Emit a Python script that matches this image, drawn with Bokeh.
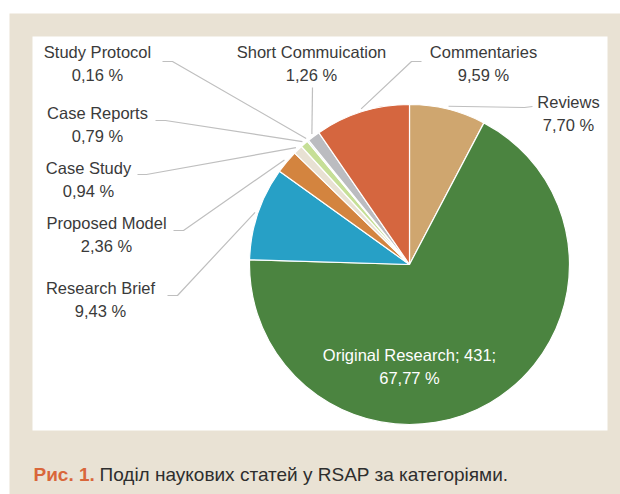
import numpy as np
from bokeh.plotting import figure
from bokeh.models import Range1d
from bokeh.core.properties import value
from bokeh.embed import file_html
from bokeh.resources import INLINE

# ---- data ----
categories = ["Reviews", "Original Research", "Research Brief", "Proposed Model",
              "Case Study", "Case Reports", "Study Protocol", "Short Commuication",
              "Commentaries"]
percents = [7.70, 67.77, 9.43, 2.36, 0.94, 0.79, 0.16, 1.26, 9.59]
original_count = 431
colors = ["#CFA66F", "#4B8440", "#27A0C6", "#D3843F", "#E8E1D3",
          "#C6DF97", "#CFE6EE", "#BBBCC0", "#D5663F"]
caption_num = "Рис. 1."
caption_text = "Поділ наукових статей у RSAP за категоріями."

# ---- layout ----
W, H = 620, 494
def X(px): return px
def Y(py): return H - py

p = figure(width=W, height=H, output_backend="svg", toolbar_location=None,
           x_range=Range1d(0, W), y_range=Range1d(0, H), min_border=0)
p.axis.visible = False
p.grid.visible = False
p.outline_line_color = None
p.background_fill_color = "white"
p.border_fill_color = "white"

# frame
p.quad(left=[X(9)], right=[W], top=[Y(13)], bottom=[0], color="#E9E2D4", line_color=None)
p.quad(left=[X(32)], right=[X(607)], top=[Y(36)], bottom=[Y(430)], color="white", line_color=None)

# pie
cx, cy, R = X(409), Y(264), 160
vals = np.array(percents)
frac = vals / vals.sum() * 2 * np.pi
ends = np.cumsum(frac)
starts = ends - frac
p.wedge(x=cx, y=cy, radius=R,
        start_angle=list(np.pi / 2 - starts), end_angle=list(np.pi / 2 - ends),
        direction="clock", fill_color=colors, line_color="white", line_width=1.2)

def fmt(v):
    return ("%.2f" % v).replace(".", ",") + " %"

# label layout: category -> (text center x, first-line center y, leader start points)
label_pos = {
    "Reviews": (568, 103, [(532, 106), (524, 107)]),
    "Research Brief": (100, 289, [(167, 295), (177, 295)]),
    "Proposed Model": (106, 224, [(173, 230), (183, 230)]),
    "Case Study": (88, 169, [(137, 174), (146, 174)]),
    "Case Reports": (97, 114, [(155, 120), (165, 120)]),
    "Study Protocol": (97, 53, [(162, 61), (172, 61)]),
    "Short Commuication": (311, 53, [(312, 87)]),
    "Commentaries": (483, 53, [(421, 61), (411, 61)]),
}
lx, ly, lt, mxs, mys = [], [], [], [], []
mids = (starts + ends) / 2
for i, c in enumerate(categories):
    if c not in label_pos:
        continue
    tx, ty, pts = label_pos[c]
    lx.append(X(tx)); ly.append(Y(ty + 10))
    lt.append(c + "\n" + fmt(percents[i]))
    ex = cx + (R + 3) * np.sin(mids[i])
    ey = cy + (R + 3) * np.cos(mids[i])
    mxs.append([X(a) for a, b in pts] + [ex])
    mys.append([Y(b) for a, b in pts] + [ey])

p.multi_line(xs=mxs, ys=mys, line_color="#BFBFBF", line_width=1.2)
p.text(x=lx, y=ly, text=lt, text_font=value("Liberation Sans"), text_font_size="16.5px",
       text_align="center", text_baseline="middle", text_line_height=1.3, text_color="#3A3A3A")

oi = categories.index("Original Research")
p.text(x=[cx], y=[Y(366)], text=["Original Research; %d;\n%s" % (original_count, fmt(percents[oi]))],
       text_font=value("Liberation Sans"), text_font_size="16.5px", text_align="center",
       text_baseline="middle", text_line_height=1.3, text_color="white")

# caption
p.text(x=[X(33)], y=[Y(474)], text=[caption_num], text_font=value("Liberation Sans"),
       text_font_size="19px", text_font_style="bold", text_align="left",
       text_baseline="alphabetic", text_color="#D9663A")
p.text(x=[X(99)], y=[Y(474)], text=[caption_text], text_font=value("Liberation Sans"),
       text_font_size="19px", text_align="left", text_baseline="alphabetic", text_color="#2E2E2E")

open("out.html", "w").write(file_html(p, INLINE))
